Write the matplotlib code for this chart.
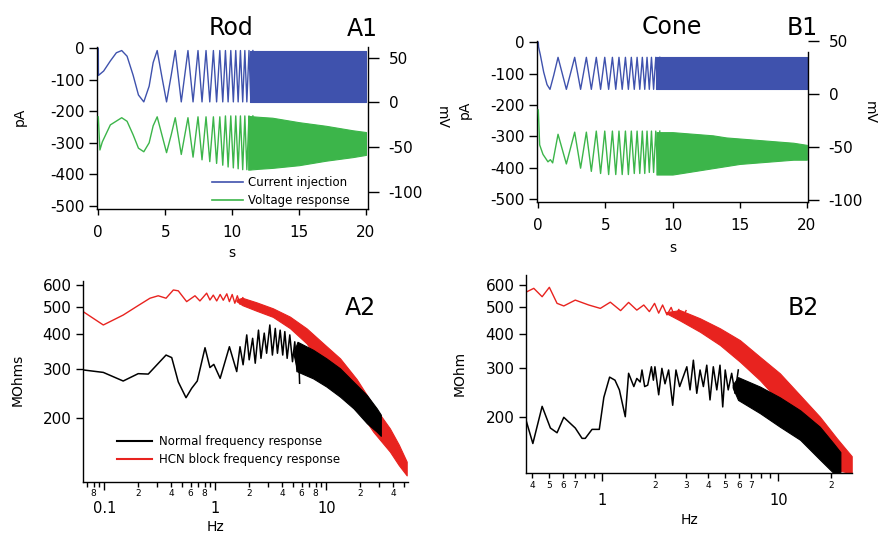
import numpy as np
import matplotlib
matplotlib.use("Agg")
import matplotlib.pyplot as plt
from matplotlib.lines import Line2D
from matplotlib.ticker import NullLocator

plt.rcParams['font.family'] = ['DejaVu Sans']
plt.rcParams['axes.unicode_minus'] = False

BLUE = "#3f52ad"
GREEN = "#3cb54a"
RED = "#e8231f"

# ---------------- Rod (A1): chirp current (pA) and voltage (mV) ----------------
rod_i_lead_t = [0.0, 0.01, 0.4, 0.9, 1.35, 2.15, 2.6, 3.0, 3.8, 4.1, 4.75, 5.45]
rod_i_lead_v = [0, -86, -72, -40, -14, -25, -85, -148, -120, -45, -90, -85]
rod_peak_t = [1.75, 4.4, 5.75, 6.7, 7.45, 8.05, 8.6, 9.08, 9.5, 9.9, 10.27, 10.62, 10.95, 11.26, 11.55]
rod_trough_t = [3.4, 5.1, 6.2, 7.08, 7.75, 8.33, 8.84, 9.3, 9.7, 10.09, 10.45, 10.79, 11.1, 11.4]
rod_i_peak = -7
rod_i_trough = -170
rod_i_band_t = [11.3, 20.0]
rod_i_band_top = [-7, -7]
rod_i_band_bot = [-170, -170]

rod_v_lead_t = [0.0, 0.12, 0.3, 0.9, 2.15, 2.6, 3.0, 3.8, 4.1, 4.75, 5.45]
rod_v_lead_v = [-16, -53, -44, -25, -21, -36, -51, -45, -26, -36, -36]
rod_v_peak = [-17, -16, -17, -17, -16, -16, -16, -16, -15, -15, -15, -15, -15, -15, -15]
rod_v_trough = [-55, -56, -58, -61, -64, -66, -68, -70, -72, -73, -74, -75, -75, -75]
rod_v_band_t = [11.2, 12, 13, 14, 15, 16, 17, 18, 19, 20]
rod_v_band_top = [-15, -16, -17, -19.5, -22, -24, -26, -28.5, -31, -33]
rod_v_band_bot = [-75, -74, -73, -71.5, -70, -67.5, -65, -63, -61, -58.5]

# ---------------- Cone (B1) ----------------
cone_i_lead_t = [0.0, 0.02, 0.15, 0.4, 0.65, 1.15]
cone_i_lead_v = [0, -15, -40, -95, -135, -105]
cone_peak_t = [1.47, 2.71, 3.58, 4.32, 4.95, 5.52, 6.01, 6.49, 6.93, 7.36, 7.75, 8.1, 8.43, 8.75, 9.05]
cone_trough_t = [0.87, 2.09, 3.15, 3.95, 4.64, 5.24, 5.77, 6.25, 6.71, 7.15, 7.56, 7.93, 8.27, 8.59, 8.9]
cone_i_peak = -48
cone_i_trough = -150
cone_i_band_t = [8.8, 20.0]
cone_i_band_top = [-48, -48]
cone_i_band_bot = [-150, -150]

cone_v_lead_t = [0.0, 0.1, 0.35, 0.72, 0.9, 1.07]
cone_v_lead_v = [-15, -48, -57, -64, -62, -65]
cone_v_peak = [-38, -36, -36, -35, -35, -35, -35, -35, -35, -35, -35, -35, -35, -35, -35]
cone_v_trough = [-66, -70, -73, -75, -76, -76, -76, -76, -75, -75, -75, -74, -74, -74]
cone_v_band_t = [8.8, 10, 11, 12, 13, 14, 15, 16, 17, 18, 19, 20]
cone_v_band_top = [-36, -36, -37, -38, -39, -41, -42, -43, -44, -45, -46, -48]
cone_v_band_bot = [-76, -76, -74, -72, -70, -68, -66, -65, -64, -63, -62, -62]

# ---------------- A2: rod impedance (MOhms) ----------------
a2_red_f = [0.0647, 0.098, 0.148, 0.2, 0.258, 0.306, 0.36, 0.419, 0.464, 0.552, 0.656, 0.727,
            0.836, 0.895, 0.959, 1.03, 1.106, 1.18, 1.27, 1.34, 1.42, 1.50, 1.58, 1.67, 1.77, 1.86]
a2_red_r = [481, 431, 468, 505, 538, 549, 538, 576, 572, 523, 549, 526,
            561, 530, 552, 526, 555, 529, 558, 523, 555, 516, 549, 512, 541, 506]
a2_red_band_f = [1.55, 1.75, 2.35, 3.3, 4.7, 6.65, 9.4, 13.3, 18.8, 26.5, 37.4, 45, 53]
a2_red_band_top = [532, 540, 520, 495, 462, 419, 370, 327, 275, 222, 183, 160, 139]
a2_red_band_bot = [525, 508, 485, 461, 420, 370, 305, 262, 218, 178, 151, 135, 124]

a2_blk_f = [0.0647, 0.098, 0.148, 0.202, 0.249, 0.36, 0.405, 0.464, 0.545, 0.612, 0.688, 0.808,
            0.895, 0.97, 1.106, 1.34, 1.56, 1.67, 1.78, 1.92, 2.02, 2.17, 2.29, 2.45, 2.58, 2.76,
            2.9, 3.1, 3.27, 3.47, 3.63, 3.84, 4.05, 4.23, 4.44, 4.69, 4.96, 5.2, 5.45, 5.6, 5.75]
a2_blk_r = [297, 291, 271, 288, 287, 336, 329, 269, 236, 255, 271, 357,
            303, 311, 277, 360, 293, 360, 310, 397, 323, 386, 314, 413, 327, 403,
            341, 431, 336, 419, 341, 413, 336, 408, 327, 397, 318, 375, 293, 360, 266]
a2_blk_band_f = [5.1, 5.5, 7.6, 10, 13.3, 17.6, 23.2, 28.5, 31]
a2_blk_band_top = [345, 375, 351, 327, 301, 269, 241, 216, 205]
a2_blk_band_bot = [335, 293, 277, 259, 238, 216, 191, 178, 172]

# ---------------- B2: cone impedance (MOhm) ----------------
b2_red_f = [0.373, 0.408, 0.455, 0.50, 0.553, 0.604, 0.702, 0.837, 0.974, 1.11, 1.27, 1.41,
            1.57, 1.72, 1.85, 1.98, 2.09, 2.2, 2.33, 2.46, 2.58, 2.72, 2.84, 2.99]
b2_red_r = [566, 582, 543, 587, 514, 503, 528, 507, 493, 519, 484, 518,
            486, 507, 480, 514, 474, 507, 467, 497, 460, 489, 454, 484]
b2_red_band_f = [2.3, 2.76, 3.59, 4.66, 6.05, 7.86, 10.2, 13.3, 17.2, 21.5, 26.1]
b2_red_band_top = [478, 486, 454, 418, 379, 330, 288, 240, 201, 168, 145]
b2_red_band_bot = [474, 446, 406, 364, 317, 272, 227, 190, 157, 129, 126]

b2_blk_f = [0.368, 0.403, 0.455, 0.507, 0.553, 0.604, 0.702, 0.767, 0.80, 0.874, 0.961, 1.02,
            1.10, 1.18, 1.25, 1.35, 1.41, 1.51, 1.57, 1.64, 1.68, 1.74, 1.81, 1.90, 1.95, 1.99,
            2.09, 2.18, 2.27, 2.38, 2.51, 2.62, 2.75, 3.02, 3.15, 3.29, 3.44, 3.59, 3.75, 3.92,
            4.09, 4.27, 4.47, 4.66, 4.83, 4.99, 5.19, 5.43, 5.67, 5.92]
b2_blk_r = [196, 161, 219, 183, 176, 200, 183, 168, 168, 181, 181, 236,
            279, 272, 251, 201, 288, 258, 276, 268, 296, 258, 261, 304, 272, 304,
            241, 300, 264, 296, 221, 296, 258, 304, 251, 321, 244, 296, 258, 308,
            231, 304, 251, 308, 218, 296, 251, 288, 244, 296]
b2_blk_band_f = [5.5, 5.9, 7.86, 10.2, 13.3, 17.2, 20.6, 22.5]
b2_blk_band_top = [262, 279, 258, 236, 212, 185, 161, 150]
b2_blk_band_bot = [256, 231, 207, 185, 166, 141, 126, 126]

W, H = 885, 534
TICK_FS = 11


def fx(x):
    return x / W


def fy(y):
    return 1 - y / H


def merge(lead_t, lead_v, peak_t, peak_v, trough_t, trough_v):
    t = np.concatenate([lead_t, peak_t, trough_t])
    v = np.concatenate([lead_v,
                        np.broadcast_to(peak_v, len(peak_t)),
                        np.broadcast_to(trough_v, len(trough_t))])
    order = np.argsort(t, kind="stable")
    return t[order], v[order]


fig = plt.figure(figsize=(8.85, 5.34), dpi=100)


def chirp_panel(box, xlim, ylim, ylim_r, cur, volt):
    ax = fig.add_axes(box)
    ax.set_xlim(*xlim)
    ax.set_ylim(*ylim)
    axr = ax.twinx()
    axr.set_ylim(*ylim_r)

    t, v = cur[0]
    ax.plot(t, v, color=BLUE, lw=1.0)
    ax.fill_between(cur[1], cur[2], cur[3], color=BLUE, lw=0.8)
    t, v = volt[0]
    axr.plot(t, v, color=GREEN, lw=1.0)
    axr.fill_between(volt[1], volt[2], volt[3], color=GREEN, lw=0.8)

    for a in (ax, axr):
        a.spines["top"].set_visible(False)
        for s in a.spines.values():
            s.set_linewidth(1.0)
    axr.spines["left"].set_visible(False)
    axr.spines["bottom"].set_visible(False)
    ax.spines["right"].set_visible(False)

    ax.set_yticks([0, -100, -200, -300, -400, -500])
    ax.set_xticks([0, 5, 10, 15, 20])
    axr.set_yticks([50, 0, -50, -100])
    ax.tick_params(axis="y", direction="out", length=6, width=1, labelsize=TICK_FS, pad=3)
    ax.tick_params(axis="x", direction="out", length=4.5, width=1, labelsize=TICK_FS, pad=7)
    axr.tick_params(axis="y", direction="out", length=8, width=1, labelsize=TICK_FS, pad=7)
    return ax, axr


# A1
ax_a1, ax_a1r = chirp_panel(
    [fx(97), fy(209), fx(367.7) - fx(97), (209 - 47.4) / H],
    (-0.097, 20.13), (-510, 3), (-118.9, 61.5),
    (merge(rod_i_lead_t, rod_i_lead_v, rod_peak_t, rod_i_peak, rod_trough_t, rod_i_trough),
     rod_i_band_t, rod_i_band_bot, rod_i_band_top),
    (merge(rod_v_lead_t, rod_v_lead_v, rod_peak_t, rod_v_peak, rod_trough_t, rod_v_trough),
     rod_v_band_t, rod_v_band_bot, rod_v_band_top))

leg_handles = [Line2D([], [], color=BLUE, lw=1.2), Line2D([], [], color=GREEN, lw=1.2)]
fig.legend(leg_handles, ["Current injection", "Voltage response"],
           loc="upper left", bbox_to_anchor=(fx(212), fy(176)), frameon=False,
           fontsize=8.5, handlelength=2.6, handletextpad=0.45, labelspacing=0.45,
           borderaxespad=0, borderpad=0)

# B1
ax_b1, ax_b1r = chirp_panel(
    [fx(537.3), fy(202.3), fx(807.7) - fx(537.3), (202.3 - 40.7) / H],
    (-0.075, 20.07), (-510, 5), (-102.2, 50.3),
    (merge(cone_i_lead_t, cone_i_lead_v, cone_peak_t, cone_i_peak, cone_trough_t, cone_i_trough),
     cone_i_band_t, cone_i_band_bot, cone_i_band_top),
    (merge(cone_v_lead_t, cone_v_lead_v, cone_peak_t, cone_v_peak, cone_trough_t[1:], cone_v_trough),
     cone_v_band_t, cone_v_band_bot, cone_v_band_top))
ax_b1r.spines["right"].set_bounds(-102.2, 39.9)


def imp_panel(box, xlim, ylim, red, blk, minor_t, minor_lab, major_t, major_lab):
    ax = fig.add_axes(box)
    ax.set_xscale("log")
    ax.set_yscale("log")
    ax.set_xlim(*xlim)
    ax.set_ylim(*ylim)
    ax.plot(red[0], red[1], color=RED, lw=1.0)
    ax.fill_between(red[2], red[4], red[3], color=RED, lw=0.8)
    ax.plot(blk[0], blk[1], color="black", lw=1.1)
    ax.fill_between(blk[2], blk[4], blk[3], color="black", lw=0.8)
    ax.spines["top"].set_visible(False)
    ax.spines["right"].set_visible(False)
    for s in ax.spines.values():
        s.set_linewidth(1.0)
    ax.set_yticks([200, 300, 400, 500, 600], labels=["200", "300", "400", "500", "600"])
    ax.yaxis.set_minor_locator(NullLocator())
    ax.set_xticks(major_t, labels=major_lab)
    ax.set_xticks(minor_t, labels=minor_lab, minor=True)
    ax.tick_params(axis="y", which="both", direction="out", length=5, width=1, labelsize=TICK_FS, pad=3)
    ax.tick_params(axis="x", which="major", direction="out", length=6, width=1, labelsize=10.5, pad=8)
    ax.tick_params(axis="x", which="minor", direction="out", length=3.5, width=1, labelsize=6.5, pad=2)
    return ax


a2_minor = [0.07, 0.08, 0.09, 0.2, 0.3, 0.4, 0.5, 0.6, 0.7, 0.8, 0.9,
            2, 3, 4, 5, 6, 7, 8, 9, 20, 30, 40, 50]
a2_minor_lab = ["", "8", "", "2", "", "4", "", "6", "", "8", "",
                "2", "", "4", "", "6", "", "8", "", "2", "", "4", ""]
ax_a2 = imp_panel([fx(82.7), fy(481.7), fx(408.3) - fx(82.7), (481.7 - 280.7) / H],
                  (0.0639, 54.8), (117.7, 622),
                  (a2_red_f, a2_red_r, a2_red_band_f, a2_red_band_top, a2_red_band_bot),
                  (a2_blk_f, a2_blk_r, a2_blk_band_f, a2_blk_band_top, a2_blk_band_bot),
                  a2_minor, a2_minor_lab, [0.1, 1, 10], ["0.1", "1", "10"])

fig.legend([Line2D([], [], color="black", lw=1.5), Line2D([], [], color=RED, lw=1.5)],
           ["Normal frequency response", "HCN block frequency response"],
           loc="upper left", bbox_to_anchor=(fx(117), fy(435)), frameon=False,
           fontsize=8.5, handlelength=3.0, handletextpad=0.55, labelspacing=0.4,
           borderaxespad=0, borderpad=0)

b2_minor = [0.4, 0.5, 0.6, 0.7, 0.8, 0.9, 2, 3, 4, 5, 6, 7, 8, 9, 20]
b2_minor_lab = ["4", "5", "6", "7", "", "", "2", "3", "4", "5", "6", "7", "", "", "2"]
ax_b2 = imp_panel([fx(525.7), fy(473.3), fx(851.7) - fx(525.7), (473.3 - 275) / H],
                  (0.367, 26.1), (125.8, 650),
                  (b2_red_f, b2_red_r, b2_red_band_f, b2_red_band_top, b2_red_band_bot),
                  (b2_blk_f, b2_blk_r, b2_blk_band_f, b2_blk_band_top, b2_blk_band_bot),
                  b2_minor, b2_minor_lab, [1, 10], ["1", "10"])

# panel titles and axis labels
fig.text(fx(231), fy(28), "Rod", fontsize=17, ha="center", va="center")
fig.text(fx(362), fy(29), "A1", fontsize=17, ha="center", va="center")
fig.text(fx(672), fy(27), "Cone", fontsize=17, ha="center", va="center")
fig.text(fx(802), fy(28), "B1", fontsize=17, ha="center", va="center")
fig.text(fx(360), fy(308), "A2", fontsize=17, ha="center", va="center")
fig.text(fx(803), fy(308), "B2", fontsize=17, ha="center", va="center")

fig.text(fx(20), fy(117), "pA", fontsize=10, rotation=90, ha="center", va="center")
fig.text(fx(442), fy(117), "mV", fontsize=10, rotation=-90, ha="center", va="center")
fig.text(fx(232), fy(253), "s", fontsize=10, ha="center", va="center")
fig.text(fx(465), fy(110), "pA", fontsize=10, rotation=90, ha="center", va="center")
fig.text(fx(870), fy(112), "mV", fontsize=10, rotation=-90, ha="center", va="center")
fig.text(fx(673), fy(248), "s", fontsize=10, ha="center", va="center")

fig.text(fx(18), fy(380), "MOhms", fontsize=10, rotation=90, ha="center", va="center")
fig.text(fx(215), fy(527), "Hz", fontsize=10, ha="center", va="center")
fig.text(fx(460), fy(373), "MOhm", fontsize=10, rotation=90, ha="center", va="center")
fig.text(fx(690), fy(520), "Hz", fontsize=10, ha="center", va="center")

fig.savefig("out.png", dpi=100)
